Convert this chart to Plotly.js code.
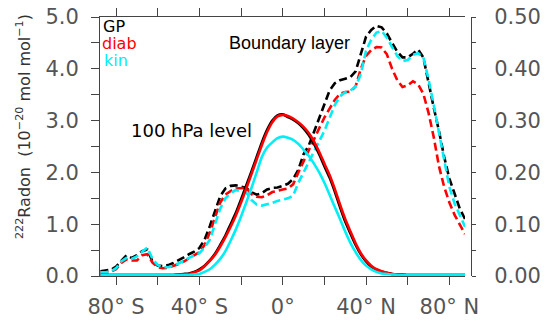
<!DOCTYPE html>
<html>
<head>
<meta charset="utf-8">
<script src="https://cdn.plot.ly/plotly-3.0.1.min.js"></script>
<style>html,body{margin:0;padding:0;background:#fff;}#chart{width:546px;height:321px;}</style>
</head>
<body>
<div id="chart"></div>
<script>
// Latitude (degrees, negative = south)
const lat = [-87.5,-85,-82.5,-80,-77.5,-75,-72.5,-70,-67.5,-65,
  -62.5,-60,-57.5,-55,-52.5,-50,-47.5,-45,-42.5,-40,
  -37.5,-35,-32.5,-30,-27.5,-25,-22.5,-20,-17.5,-15,
  -12.5,-10,-7.5,-5,-2.5,0,2.5,5,7.5,10,
  12.5,15,17.5,20,22.5,25,27.5,30,32.5,35,
  37.5,40,42.5,45,47.5,50,52.5,55,57.5,60,
  62.5,65,67.5,70,72.5,75,77.5,80,82.5,85,87.5];

// Boundary layer 222Rn (left axis, 10^-20 mol/mol)
const gpBL = [0.09,0.10,0.12,0.18,0.30,0.40,0.35,0.40,0.48,0.51,
  0.28,0.20,0.19,0.21,0.25,0.30,0.36,0.42,0.47,0.54,
  0.70,0.96,1.26,1.54,1.69,1.74,1.75,1.72,1.70,1.62,
  1.57,1.60,1.67,1.70,1.71,1.74,1.78,1.87,2.05,2.35,
  2.52,2.78,3.05,3.32,3.58,3.72,3.78,3.81,3.84,3.95,
  4.30,4.62,4.75,4.83,4.80,4.68,4.50,4.33,4.22,4.22,
  4.29,4.37,4.22,3.70,3.25,2.80,2.30,1.88,1.60,1.30,1.10];
const diabBL = [0.05,0.06,0.08,0.13,0.25,0.32,0.30,0.30,0.40,0.42,
  0.26,0.17,0.15,0.16,0.19,0.23,0.28,0.34,0.40,0.46,
  0.60,0.84,1.13,1.42,1.57,1.64,1.69,1.70,1.70,1.58,
  1.53,1.52,1.56,1.62,1.65,1.67,1.69,1.77,2.00,2.22,
  2.42,2.63,2.85,3.06,3.24,3.40,3.52,3.55,3.56,3.66,
  4.00,4.25,4.36,4.42,4.41,4.28,4.00,3.78,3.65,3.68,
  3.76,3.70,3.52,3.15,2.68,2.12,1.72,1.42,1.18,1.00,0.81];
const kinBL = [0.07,0.07,0.09,0.15,0.28,0.35,0.33,0.38,0.47,0.55,
  0.33,0.21,0.17,0.17,0.20,0.24,0.29,0.35,0.39,0.44,
  0.55,0.70,1.00,1.30,1.50,1.60,1.66,1.64,1.61,1.47,
  1.38,1.36,1.38,1.41,1.45,1.48,1.50,1.55,1.80,2.00,
  2.20,2.40,2.60,2.80,3.05,3.30,3.47,3.55,3.58,3.66,
  3.90,4.35,4.56,4.70,4.73,4.60,4.42,4.25,4.15,4.17,
  4.27,4.30,4.22,3.80,3.30,2.75,2.20,1.72,1.40,1.17,0.95];

// 100 hPa level 222Rn (right axis)
const gp100 = [0.002,0.002,0.002,0.002,0.002,0.002,0.002,0.002,0.002,0.002,
  0.002,0.002,0.002,0.002,0.002,0.003,0.004,0.005,0.008,0.013,
  0.020,0.030,0.043,0.060,0.078,0.100,0.122,0.148,0.175,0.202,
  0.230,0.258,0.282,0.300,0.310,0.312,0.307,0.302,0.295,0.285,
  0.272,0.255,0.235,0.212,0.190,0.163,0.133,0.105,0.082,0.060,
  0.042,0.028,0.018,0.012,0.008,0.006,0.004,0.003,0.003,0.002,
  0.002,0.002,0.002,0.002,0.002,0.002,0.002,0.002,0.002,0.002,0.002];
const diab100 = [0.002,0.002,0.002,0.002,0.002,0.002,0.002,0.002,0.002,0.002,
  0.002,0.002,0.002,0.002,0.002,0.002,0.003,0.004,0.007,0.011,
  0.019,0.029,0.041,0.057,0.075,0.095,0.117,0.142,0.169,0.197,
  0.225,0.253,0.278,0.297,0.308,0.311,0.309,0.304,0.297,0.288,
  0.276,0.260,0.240,0.217,0.195,0.168,0.138,0.110,0.086,0.063,
  0.044,0.030,0.020,0.013,0.009,0.006,0.004,0.003,0.003,0.002,
  0.002,0.002,0.002,0.002,0.002,0.002,0.002,0.002,0.002,0.002,0.002];
const kin100 = [0.002,0.002,0.002,0.002,0.002,0.002,0.002,0.002,0.002,0.002,
  0.002,0.002,0.002,0.002,0.002,0.002,0.002,0.002,0.003,0.004,
  0.008,0.013,0.022,0.033,0.048,0.068,0.090,0.115,0.142,0.170,
  0.200,0.230,0.248,0.258,0.266,0.269,0.267,0.263,0.255,0.244,
  0.232,0.217,0.200,0.180,0.157,0.133,0.110,0.086,0.064,0.046,
  0.031,0.020,0.013,0.008,0.005,0.004,0.003,0.002,0.002,0.002,
  0.002,0.002,0.002,0.002,0.002,0.002,0.002,0.002,0.002,0.002,0.002];

const seriesNames = ['GP','diab','kin'];
const seriesColors = ['#000000','#ff0000','#00eef5'];
const xTickVals = [-80,-60,-40,-20,0,20,40,60,80];
const xTickText = ['80° S','','40° S','','0°','','40° N','','80° N'];
const panelLabels = ['Boundary layer','100 hPa level'];
const yTitle = '<sup>222</sup>Radon  (10<sup>−20</sup> mol mol<sup>−1</sup>)';

const blData = [gpBL, diabBL, kinBL];
const hpData = [gp100, diab100, kin100];

const traces = [];
blData.forEach((d,i)=>{
  traces.push({x:lat, y:d, type:'scatter', mode:'lines', name:seriesNames[i]+' BL',
    line:{color:seriesColors[i], width:2.6, dash:'8px,4px'}, yaxis:'y', showlegend:false});
});
hpData.forEach((d,i)=>{
  traces.push({x:lat, y:d, type:'scatter', mode:'lines', name:seriesNames[i]+' 100hPa',
    line:{color:seriesColors[i], width:2.6, shape:'spline', smoothing:0.6}, yaxis:'y2', showlegend:false});
});

const tickFont = {family:'DejaVu Sans', size:21, color:'#555'};
const axCol = '#444';
const PL = 100, PR = 471, PT = 17, PB = 276;
const W = PR-PL, H = PB-PT;
const px = v => (v-PL)/W, py = v => (PB-v)/H;

const annotations = [
  {text:seriesNames[0], x:px(102), y:py(26), xref:'paper', yref:'paper', xanchor:'left', yanchor:'middle', showarrow:false, borderpad:0, font:{family:'DejaVu Sans', size:16, color:seriesColors[0]}},
  {text:seriesNames[1], x:px(101), y:py(43), xref:'paper', yref:'paper', xanchor:'left', yanchor:'middle', showarrow:false, borderpad:0, font:{family:'DejaVu Sans', size:16, color:seriesColors[1]}},
  {text:seriesNames[2], x:px(103), y:py(60), xref:'paper', yref:'paper', xanchor:'left', yanchor:'middle', showarrow:false, borderpad:0, font:{family:'DejaVu Sans', size:16, color:seriesColors[2]}},
  {text:panelLabels[0], x:px(227), y:py(43), xref:'paper', yref:'paper', xanchor:'left', yanchor:'middle', showarrow:false, font:{family:'Liberation Sans', size:18, color:'#000'}},
  {text:panelLabels[1], x:px(129), y:py(130), xref:'paper', yref:'paper', xanchor:'left', yanchor:'middle', showarrow:false, font:{family:'DejaVu Sans', size:18, color:'#000'}},
  {text:yTitle, x:px(23), y:py(127), xref:'paper', yref:'paper', xanchor:'center', yanchor:'middle', textangle:-90, showarrow:false, font:{family:'DejaVu Sans', size:16, color:'#333'}}
];

const layout = {
  width:546, height:321,
  margin:{l:PL, r:546-PR, t:PT, b:321-PB, pad:0},
  paper_bgcolor:'#fff', plot_bgcolor:'#fff',
  showlegend:false,
  xaxis:{range:[-87.7,87.5], domain:[0,(465-PL)/W], tickvals:xTickVals, ticktext:xTickText,
    ticks:'outside', ticklen:8, tickwidth:1, tickcolor:axCol, showline:true, linecolor:axCol, linewidth:1,
    mirror:'ticks', showgrid:false, zeroline:false, tickfont:tickFont, ticklabelstandoff:4},
  yaxis:{range:[0,5], dtick:1, tick0:0, tickformat:'.1f', ticks:'outside', ticklen:8, tickwidth:1, tickcolor:axCol,
    minor:{dtick:0.5, ticks:'outside', ticklen:8, tickcolor:axCol, showgrid:false},
    showline:true, linecolor:axCol, linewidth:1, showgrid:false, zeroline:false, tickfont:tickFont, anchor:'x', ticklabelstandoff:8},
  yaxis2:{range:[0,0.5], dtick:0.1, tick0:0, tickformat:'.2f', overlaying:'y', side:'right', anchor:'free', position:1,
    ticks:'outside', ticklen:4, tickwidth:1, tickcolor:axCol,
    minor:{dtick:0.05, ticks:'outside', ticklen:4, tickcolor:axCol, showgrid:false},
    showline:true, linecolor:axCol, linewidth:1, showgrid:false, zeroline:false, tickfont:tickFont, ticklabelstandoff:14},
  annotations:annotations
};

Plotly.newPlot('chart', traces, layout, {displayModeBar:false, staticPlot:true});
</script>
</body>
</html>
